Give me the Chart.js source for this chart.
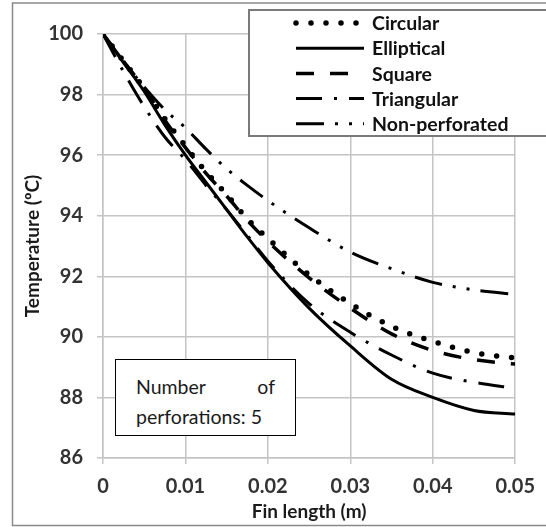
<!DOCTYPE html>
<html>
<head>
<meta charset="utf-8">
<script src="https://cdn.jsdelivr.net/npm/chart.js@4.4.1/dist/chart.umd.min.js"></script>
<style>
    body { margin: 0; background: #fff; }
    #wrap { position: relative; width: 546px; height: 527px; }
    #note {
        position: absolute; left: 115px; top: 359px; width: 139px; height: 50px;
        padding: 12px 20px 13px 20px; border: 1.5px solid #000; background: #fff;
        font: 19.5px Lato, sans-serif; line-height: 30px; color: #1a1a1a;
        text-align: justify;
    }
</style>
</head>
<body>
<div id="wrap">
    <canvas id="finChart" width="546" height="527"></canvas>
    <div id="note">Number of perforations: 5</div>
</div>
<script>
// Fin length (m) and temperatures (oC)
const finLength = [0, 0.0025, 0.005, 0.0075, 0.01, 0.0125, 0.015, 0.0175, 0.02, 0.025, 0.03, 0.035, 0.04, 0.045, 0.05];
const circular = [100, 99.1, 98.2, 97.2, 96.3, 95.45, 94.7, 93.9, 93.25, 92.05, 91.1, 90.35, 89.85, 89.48, 89.3];
const elliptical = [100, 99.05, 98.1, 97.0, 96.0, 95.1, 94.2, 93.3, 92.45, 90.95, 89.7, 88.6, 88.0, 87.57, 87.45];
const square = [100, 99.1, 98.2, 97.15, 96.25, 95.4, 94.65, 93.85, 93.15, 91.95, 90.95, 90.1, 89.55, 89.25, 89.1];
const triangular = [100, 98.75, 97.6, 96.6, 95.85, 95.0, 94.2, 93.35, 92.5, 91.1, 90.15, 89.4, 88.8, 88.5, 88.3];
const nonPerforated = [100, 99.1, 98.25, 97.5, 96.9, 96.2, 95.55, 95.0, 94.5, 93.6, 92.8, 92.25, 91.8, 91.55, 91.4];
const seriesNames = ['Circular', 'Elliptical', 'Square', 'Triangular', 'Non-perforated'];
const xTicks = [0, 0.01, 0.02, 0.03, 0.04, 0.05];
const yTicks = [86, 88, 90, 92, 94, 96, 98, 100];

const toPoints = vals => vals.map((v, i) => ({ x: finLength[i], y: v }));
const gridGray = '#c4c4c4';
const tickFont = { family: 'Lato', size: 20, weight: 'bold' };
const titleFont = { family: 'Lato', size: 19, weight: 'bold' };

function makeSet(label, vals, dash, width, cap) {
    return {
        label: label,
        data: toPoints(vals),
        borderColor: '#000',
        borderWidth: width,
        borderDash: dash,
        borderCapStyle: cap,
        pointRadius: 0,
        cubicInterpolationMode: 'monotone',
        fill: false
    };
}

// legend box + outer frame drawn over the plot
const boxLegend = {
    id: 'boxLegend',
    afterDraw(chart) {
        const ctx = chart.ctx;
        ctx.save();
        ctx.strokeStyle = '#8a8a8a';
        ctx.lineWidth = 1.5;
        ctx.strokeRect(12.5, 3, 560, 522.5);

        ctx.fillStyle = '#fff';
        ctx.fillRect(249, 10, 320, 126);
        ctx.strokeStyle = '#7a7a7a';
        ctx.lineWidth = 2;
        ctx.strokeRect(249, 10, 320, 126);

        chart.data.datasets.forEach((ds, i) => {
            const y = 23 + i * 25.2;
            ctx.beginPath();
            ctx.setLineDash(ds.borderDash);
            ctx.lineCap = ds.borderCapStyle;
            ctx.lineWidth = ds.borderWidth;
            ctx.strokeStyle = ds.borderColor;
            ctx.moveTo(296, y);
            ctx.lineTo(364, y);
            ctx.stroke();
            ctx.setLineDash([]);
            ctx.fillStyle = '#111';
            ctx.font = 'bold 19.5px Lato';
            ctx.textBaseline = 'middle';
            ctx.fillText(ds.label, 372, y + 1);
        });
        ctx.restore();
    }
};

new Chart(document.getElementById('finChart'), {
    type: 'line',
    data: {
        datasets: [
            makeSet(seriesNames[0], circular, [0, 15], 5.5, 'round'),
            makeSet(seriesNames[1], elliptical, [], 3, 'butt'),
            makeSet(seriesNames[2], square, [18, 16], 3.5, 'butt'),
            makeSet(seriesNames[3], triangular, [26, 12, 3, 12], 3, 'butt'),
            makeSet(seriesNames[4], nonPerforated, [28, 11, 3, 11, 3, 11], 3, 'butt')
        ]
    },
    options: {
        responsive: false,
        animation: false,
        layout: { padding: { left: 12, top: 34, right: 27, bottom: 0 } },
        plugins: {
            legend: { display: false },
            tooltip: { enabled: false }
        },
        scales: {
            x: {
                type: 'linear',
                min: 0,
                max: 0.05,
                afterFit: s => { s.height = 69; },
                afterBuildTicks: s => { s.ticks = xTicks.map(v => ({ value: v })); },
                ticks: {
                    padding: 11,
                    color: '#333',
                    font: tickFont,
                    callback: v => v === 0 ? '0' : v.toFixed(2)
                },
                grid: { color: gridGray, lineWidth: 1.5, tickLength: 6 },
                border: { color: gridGray, width: 1.5 },
                title: {
                    display: true,
                    text: 'Fin length (m)',
                    color: '#1a1a1a',
                    font: titleFont,
                    padding: { top: 0, bottom: 4 }
                }
            },
            y: {
                min: 86,
                max: 100,
                afterFit: s => { s.width = 91; },
                afterBuildTicks: s => { s.ticks = yTicks.map(v => ({ value: v })); },
                ticks: {
                    padding: 14,
                    color: '#333',
                    font: tickFont
                },
                grid: { color: gridGray, lineWidth: 1.5, tickLength: 6 },
                border: { color: gridGray, width: 1.5 },
                title: {
                    display: true,
                    text: 'Temperature (ºC)',
                    color: '#1a1a1a',
                    font: titleFont,
                    padding: { top: 9, bottom: 0 }
                }
            }
        }
    },
    plugins: [boxLegend]
});
</script>
</body>
</html>
